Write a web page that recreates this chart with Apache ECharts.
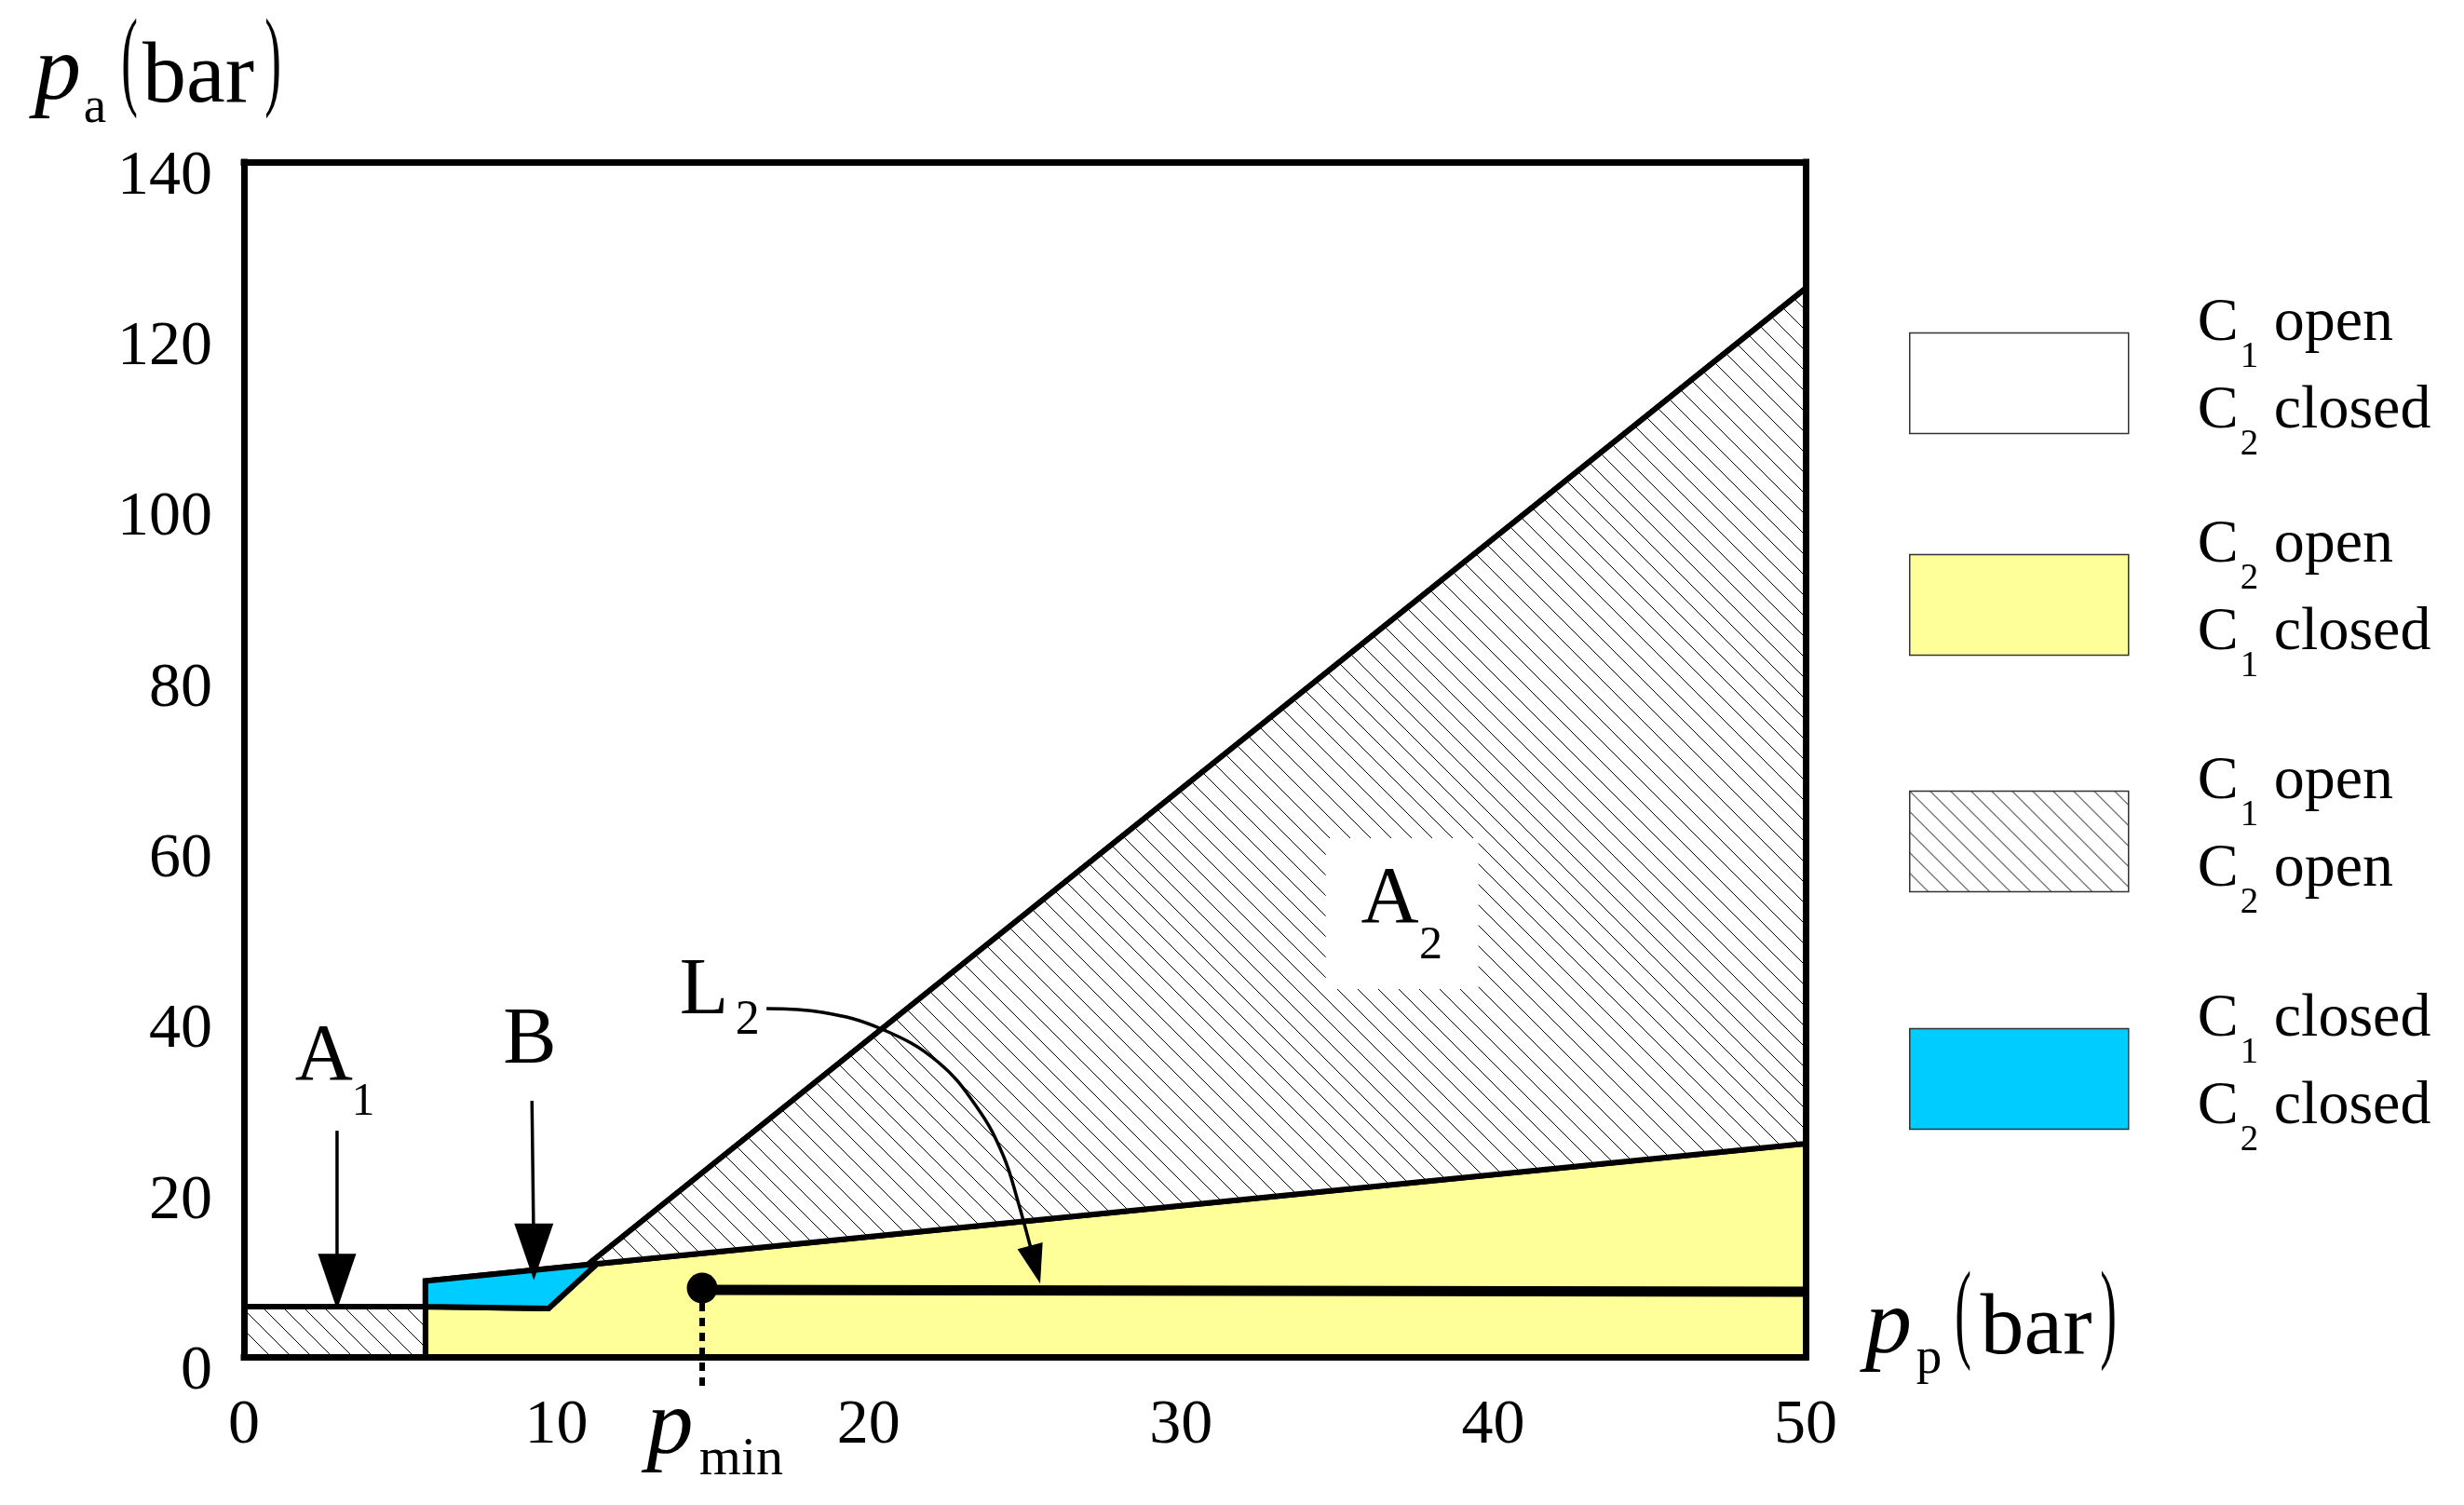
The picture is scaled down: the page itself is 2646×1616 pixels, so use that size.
<!DOCTYPE html>
<html>
<head>
<meta charset="utf-8">
<title>Valve state map</title>
<script src="https://cdn.jsdelivr.net/npm/echarts@6/dist/echarts.min.js"></script>
<style>
  html, body { margin: 0; padding: 0; background: #fff; }
  #chart { width: 2646px; height: 1616px; }
</style>
</head>
<body>
<div id="chart"></div>
<script>
// ── 区域边界 (pp, pa) ──
const regionFree   = [[0, 5.9], [5.81, 5.9], [5.81, 8.9], [11.0, 10.8], [50, 125.2], [50, 140], [0, 140]];
const regionYellow = [[5.81, 0], [50, 0], [50, 25.0], [11.3, 10.9], [9.75, 5.67], [5.81, 5.9]];
const regionA1     = [[0, 0], [5.81, 0], [5.81, 5.9], [0, 5.9]];
const regionA2     = [[11.0, 10.8], [50, 125.2], [50, 25.0]];
const regionBlue   = [[5.81, 5.9], [9.75, 5.67], [11.3, 10.9], [5.81, 8.9]];

// ── 工作线 / 箭头 ──
const lineL2    = [[14.67, 7.86], [50, 7.64]];
const pointPmin = [14.67, 8.07];
const linePmin  = [[14.67, 8.07], [14.67, -3.4]];
const shaftA1   = [[2.98, 26.5], [2.98, 8.8]];
const shaftB    = [[9.22, 30.0], [9.28, 12.3]];
const curveL2   = [[16.73, 40.81], [18.52, 40.38], [20.42, 38.41], [22.21, 34.59], [23.49, 29.13],
                   [24.30, 23.68], [24.78, 18.22], [25.33, 10.8]];
const arrowHeads = [
  { value: [2.98, 8.8],  symbolSize: [41, 60], symbolRotate: 180 },
  { value: [9.28, 12.3], symbolSize: [42, 61], symbolRotate: 180 },
  { value: [25.33, 10.8], symbolSize: [28, 42], symbolRotate: 195 },
];

// ── 图内标注 ──
const notes = [
  { name: 'A', value: [2.56, 34.97], size: 86 },
  { name: '1', value: [3.82, 29.84], size: 50 },
  { name: 'B', value: [9.15, 36.99], size: 86 },
  { name: 'L', value: [14.73, 42.78], size: 86 },
  { name: '2', value: [16.12, 39.39], size: 52 },
  { name: 'A', value: [36.69, 53.47], size: 86 },
  { name: '2', value: [38.0, 48.18], size: 50 },
  { name: 'p', value: [13.64, -8.40], size: 100, italic: true },
  { name: 'min', value: [15.92, -12.06], size: 58 },
];
const noteBoxA2 = [37.08, 51.94];

// ── 刻度 ──
const xTicks = { min: 0, max: 50, interval: 10 };
const yTicks = { min: 0, max: 140, interval: 20 };

// ── 图例 ──
const legendNames = ['C1 open C2 closed', 'C2 open C1 closed', 'C1 open C2 open', 'C1 closed C2 closed'];
const legendSubs  = [['1', '2'], ['2', '1'], ['1', '2'], ['1', '2']];
const legendWords = [['open', 'closed'], ['open', 'closed'], ['open', 'open'], ['closed', 'closed']];
const legendIconTops = [356, 594, 848, 1103];

const FONT = '"Liberation Serif", "Times New Roman", serif';
const YELLOW = '#FFFF99';
const BLUE = '#00CCFF';

// 斜线填充
function makeHatch(step) {
  const c = document.createElement('canvas');
  c.width = step; c.height = step;
  const g = c.getContext('2d');
  g.fillStyle = '#fff';
  g.fillRect(0, 0, step, step);
  g.strokeStyle = '#000';
  g.lineWidth = 1;
  for (let k = -1; k <= 1; k++) {
    g.beginPath();
    g.moveTo(k * step, 0);
    g.lineTo(k * step + step, step);
    g.stroke();
  }
  return { image: c, repeat: 'repeat' };
}
const HATCH = makeHatch(22);

function polygonSeries(name, polys, fill) {
  return {
    name: name,
    type: 'custom',
    coordinateSystem: 'cartesian2d',
    itemStyle: { color: fill },
    data: polys.map(p => p[0]),
    z: 2,
    renderItem(params, api) {
      const poly = polys[params.dataIndex];
      return {
        type: 'polygon',
        shape: { points: poly.map(p => api.coord(p)) },
        style: { fill: fill, stroke: '#000', lineWidth: 6, lineJoin: 'miter', miterLimit: 3 },
      };
    },
  };
}

function blackLine(data, width, extra) {
  return Object.assign({
    type: 'line',
    data: data,
    symbol: 'none',
    clip: false,
    silent: true,
    z: 5,
    lineStyle: { color: '#000', width: width, opacity: 1 },
  }, extra || {});
}

const legendRich = {
  c: { fontFamily: FONT, fontSize: 66, lineHeight: 94, color: '#000' },
  s: { fontFamily: FONT, fontSize: 39, lineHeight: 22, padding: [72, 0, 0, 2], color: '#000' },
};

function legendText(i) {
  return '{c|C}{s|' + legendSubs[i][0] + '}{c| ' + legendWords[i][0] + '}\n' +
         '{c|C}{s|' + legendSubs[i][1] + '}{c| ' + legendWords[i][1] + '}';
}

// 坐标轴标题（分段文字）
function txt(x, y, text, size, opts) {
  opts = opts || {};
  return {
    type: 'text', x: x, y: y, z: 100,
    scaleX: opts.scaleX || 1,
    style: {
      text: text,
      fontFamily: FONT,
      fontSize: size,
      fontStyle: opts.italic ? 'italic' : 'normal',
      fill: '#000',
      align: 'center', verticalAlign: 'middle',
      textAlign: 'center', textVerticalAlign: 'middle',
    },
  };
}

const tickRich = { v: { fontFamily: FONT, fontSize: 68, color: '#000', lineHeight: 68, padding: [32, 0, 0, 0] } };

const chart = echarts.init(document.getElementById('chart'));

chart.setOption({
  animation: false,
  backgroundColor: '#fff',
  grid: { left: 262, top: 174, width: 1677, height: 1283 },
  xAxis: [
    {
      type: 'value', position: 'bottom', min: xTicks.min, max: xTicks.max, interval: xTicks.interval, z: 10,
      axisLine: { show: true, lineStyle: { color: '#000', width: 7, cap: 'square' } },
      axisTick: { show: false }, splitLine: { show: false },
      axisLabel: { fontFamily: FONT, fontSize: 68, color: '#000', margin: 40 },
    },
    {
      type: 'value', position: 'top', min: xTicks.min, max: xTicks.max, z: 10,
      axisLine: { show: true, onZero: false, lineStyle: { color: '#000', width: 7, cap: 'square' } },
      axisTick: { show: false }, splitLine: { show: false }, axisLabel: { show: false },
    },
  ],
  yAxis: [
    {
      type: 'value', position: 'left', min: yTicks.min, max: yTicks.max, interval: yTicks.interval, z: 10,
      axisLine: { show: true, lineStyle: { color: '#000', width: 7, cap: 'square' } },
      axisTick: { show: false }, splitLine: { show: false },
      axisLabel: { margin: 34, formatter: '{v|{value}}', rich: tickRich },
    },
    {
      type: 'value', position: 'right', min: yTicks.min, max: yTicks.max, z: 10,
      axisLine: { show: true, onZero: false, lineStyle: { color: '#000', width: 7, cap: 'square' } },
      axisTick: { show: false }, splitLine: { show: false }, axisLabel: { show: false },
    },
  ],
  legend: legendNames.map((n, i) => ({
    data: [n],
    orient: 'vertical',
    left: 2050,
    top: legendIconTops[i] - 64,
    padding: 0,
    icon: 'rect',
    itemWidth: 235,
    itemHeight: 108,
    selectedMode: false,
    itemStyle: { borderColor: '#333', borderWidth: 1.5 },
    formatter: () => legendText(i),
    textStyle: { fontFamily: FONT, color: '#000', padding: [0, 0, 34, 69], rich: legendRich },
  })),
  graphic: [
    // p_a (bar)
    txt(62, 79.5, 'p', 100, { italic: true }),
    txt(102, 116.5, 'a', 55),
    txt(139, 70.8, '(', 118, { scaleX: 0.45 }),
    txt(213, 84, 'bar', 94),
    txt(293, 70.8, ')', 118, { scaleX: 0.45 }),
    // p_p (bar)
    txt(2028, 1425.5, 'p', 100, { italic: true }),
    txt(2071.5, 1460, 'p', 55),
    txt(2108, 1415.8, '(', 118, { scaleX: 0.45 }),
    txt(2186.5, 1428, 'bar', 94),
    txt(2264, 1415.8, ')', 118, { scaleX: 0.45 }),
  ],
  series: [
    polygonSeries(legendNames[0], [regionFree], '#fff'),
    polygonSeries(legendNames[1], [regionYellow], YELLOW),
    polygonSeries(legendNames[2], [regionA1, regionA2], HATCH),
    polygonSeries(legendNames[3], [regionBlue], BLUE),

    // 白底标签框
    {
      type: 'scatter', data: [noteBoxA2], symbol: 'rect', symbolSize: [164, 162],
      itemStyle: { color: '#fff', opacity: 1 }, silent: true, z: 4, clip: false,
    },

    blackLine(lineL2, 11),
    {
      type: 'scatter', data: [pointPmin], symbol: 'circle', symbolSize: 33,
      itemStyle: { color: '#000', opacity: 1 }, silent: true, z: 6, clip: false,
    },
    blackLine(linePmin, 6, { lineStyle: { color: '#000', width: 6, type: [9, 7] } }),
    blackLine(shaftA1, 3.5),
    blackLine(shaftB, 3.5),
    blackLine(curveL2, 3.5, { smooth: 0.4 }),
    {
      type: 'scatter', data: arrowHeads, symbol: 'triangle',
      itemStyle: { color: '#000', opacity: 1 }, silent: true, z: 6, clip: false,
    },

    // 文字标注
    {
      type: 'scatter', symbolSize: 1, silent: true, z: 8, clip: false,
      itemStyle: { color: '#fff', opacity: 1 },
      data: notes.map(n => ({
        name: n.name,
        value: n.value,
        label: {
          show: true, position: 'inside', formatter: '{b}', color: '#000', opacity: 1,
          fontFamily: FONT, fontSize: n.size, fontStyle: n.italic ? 'italic' : 'normal',
        },
      })),
    },
  ],
});
</script>
</body>
</html>
